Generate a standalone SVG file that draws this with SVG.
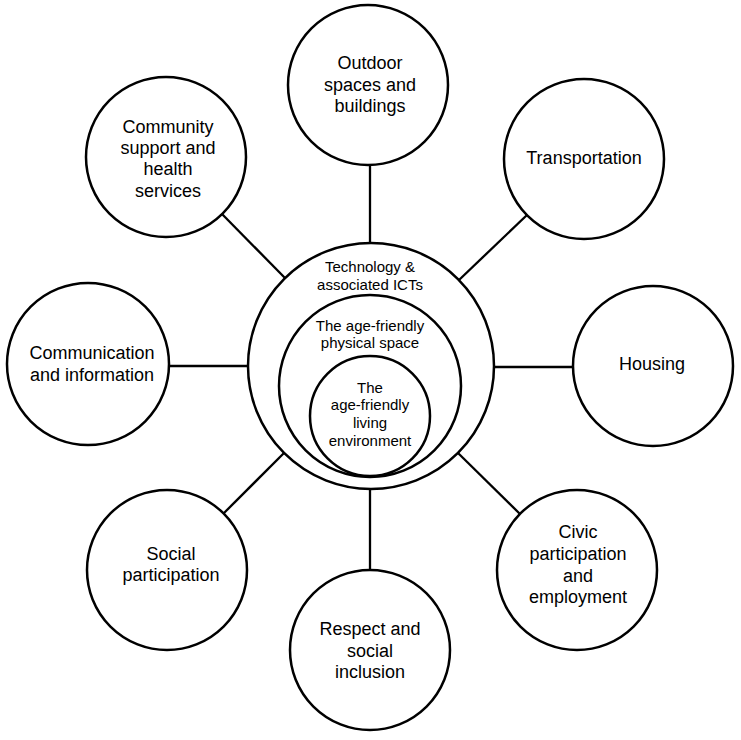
<svg xmlns="http://www.w3.org/2000/svg" width="741" height="740" viewBox="0 0 741 740">
<style>
.node{fill:#fff;stroke:#000;stroke-width:2.5}
.ring{fill:#fff;stroke:#000;stroke-width:2.5}
.conn{stroke:#000;stroke-width:2.3;fill:none}
text{font-family:"Liberation Sans",Arial,sans-serif;fill:#000;text-anchor:middle}
.t{font-size:18px}
.s{font-size:15px}
</style>
<rect width="741" height="740" fill="#fff"/>
<g id="connectors">
<line class="conn" x1="370" y1="165" x2="370" y2="244"/>
<line class="conn" x1="222" y1="214" x2="285" y2="278"/>
<line class="conn" x1="527" y1="215" x2="459" y2="280"/>
<line class="conn" x1="168" y1="366" x2="248" y2="366"/>
<line class="conn" x1="494" y1="367" x2="573" y2="367"/>
<line class="conn" x1="224" y1="513" x2="284" y2="453"/>
<line class="conn" x1="370" y1="488" x2="370" y2="570"/>
<line class="conn" x1="520" y1="514" x2="458" y2="453"/>
</g>
<g id="center">
<circle class="ring" cx="371" cy="366" r="123"/>
<text class="s" x="370" y="272">Technology &amp;</text>
<text class="s" x="370" y="290">associated ICTs</text>
<circle class="ring" cx="370" cy="386" r="91"/>
<text class="s" x="370" y="331">The age-friendly</text>
<text class="s" x="370" y="348">physical space</text>
<circle class="ring" cx="370" cy="416" r="60"/>
<text class="s" x="370" y="393">The</text>
<text class="s" x="370" y="410">age-friendly</text>
<text class="s" x="370" y="428">living</text>
<text class="s" x="370" y="446">environment</text>
</g>
<g id="outdoor">
<circle class="node" cx="368" cy="85" r="80"/>
<text class="t" x="370" y="69">Outdoor</text>
<text class="t" x="370" y="91">spaces and</text>
<text class="t" x="370" y="112">buildings</text>
</g>
<g id="community">
<circle class="node" cx="166" cy="157" r="80"/>
<text class="t" x="168" y="133">Community</text>
<text class="t" x="168" y="154">support and</text>
<text class="t" x="168" y="175">health</text>
<text class="t" x="168" y="197">services</text>
</g>
<g id="transportation">
<circle class="node" cx="584" cy="159" r="80"/>
<text class="t" x="584" y="164">Transportation</text>
</g>
<g id="communication">
<circle class="node" cx="88" cy="364" r="81"/>
<text class="t" x="92" y="359">Communication</text>
<text class="t" x="92" y="381">and information</text>
</g>
<g id="housing">
<circle class="node" cx="653" cy="366" r="80"/>
<text class="t" x="652" y="370">Housing</text>
</g>
<g id="social">
<circle class="node" cx="167" cy="570" r="80"/>
<text class="t" x="171" y="560">Social</text>
<text class="t" x="171" y="581">participation</text>
</g>
<g id="respect">
<circle class="node" cx="370" cy="650" r="80"/>
<text class="t" x="370" y="635">Respect and</text>
<text class="t" x="370" y="657">social</text>
<text class="t" x="370" y="678">inclusion</text>
</g>
<g id="civic">
<circle class="node" cx="577" cy="570" r="80"/>
<text class="t" x="578" y="538">Civic</text>
<text class="t" x="578" y="560">participation</text>
<text class="t" x="578" y="582">and</text>
<text class="t" x="578" y="603">employment</text>
</g>
</svg>
